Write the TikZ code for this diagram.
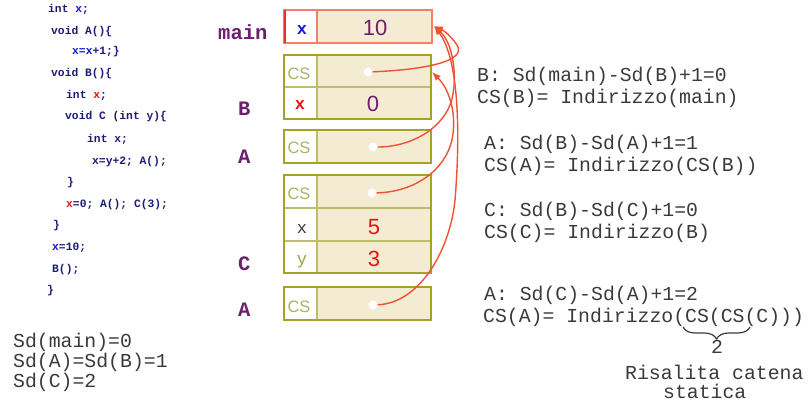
\documentclass[tikz,border=0pt]{standalone}
\usepackage{fontspec}
\setmainfont{Liberation Sans}
\newfontfamily\cour{Liberation Mono}
\usetikzlibrary{arrows.meta,decorations.pathreplacing}
\definecolor{navy}{HTML}{1C1C78}
\definecolor{xblue}{HTML}{1515E6}
\definecolor{xred}{HTML}{EE1111}
\definecolor{purp}{HTML}{6E1E6E}
\definecolor{salmon}{HTML}{F4806A}
\definecolor{redline}{HTML}{E8301E}
\definecolor{arrowc}{HTML}{F25032}
\definecolor{olive}{HTML}{A3A32A}
\definecolor{olivel}{HTML}{BDBD6A}
\definecolor{cstext}{HTML}{A9B465}
\definecolor{ytext}{HTML}{9AA040}
\definecolor{graytext}{HTML}{3A3A3A}
\definecolor{cellbg}{HTML}{F3EBD2}
\begin{document}
\begin{tikzpicture}[x=1pt,y=-1pt,
  code/.style={anchor=base west, inner sep=0, text=navy, font=\cour\bfseries\fontsize{11.3}{13}\selectfont},
  note/.style={anchor=base west, inner sep=0, text=graytext, font=\cour\fontsize{19.8}{22}\selectfont},
  lbl/.style={anchor=base west, inner sep=0, text=purp, font=\cour\bfseries\fontsize{20.5}{24}\selectfont},
  num/.style={anchor=base, inner sep=0, font=\fontsize{22}{26}\selectfont},
  cstxt/.style={anchor=base, inner sep=0, text=cstext, font=\fontsize{16.5}{20}\selectfont},
  monoc/.style={anchor=base, inner sep=0, font=\cour\fontsize{17}{20}\selectfont},
  monob/.style={anchor=base, inner sep=0, font=\cour\bfseries\fontsize{17}{20}\selectfont},
  dot/.style={circle, fill=white, inner sep=0, minimum size=9pt},
  link/.style={draw=arrowc, line width=1.4pt},
  linkarr/.style={link, -{Latex[length=9pt,width=7pt]}},
  frame/.style={draw=olive, line width=2pt},
  inner/.style={draw=olivel, line width=1.3pt}
]
\useasboundingbox (0,0) rectangle (810,409);

% ---------- code ----------
\node[code] (c1)  at (48,13)  {int \textcolor{xblue}{x};};
\node[code] (c2)  at (51,35)  {void A()\{};
\node[code] (c3)  at (72,55)  {\textcolor{xblue}{x=x}+1;\}};
\node[code] (c4)  at (51,77)  {void B()\{};
\node[code] (c5)  at (66,99)  {int \textcolor{xred}{x};};
\node[code] (c6)  at (65,120) {void C (int y)\{};
\node[code] (c7)  at (87,142) {int x;};
\node[code] (c8)  at (92,164) {x=y+2; A();};
\node[code] (c9)  at (67,185) {\}};
\node[code] (c10) at (66,207) {\textcolor{xred}{x}=0; A(); C(3);};
\node[code] (c11) at (53,228) {\}};
\node[code] (c12) at (52,250) {\textcolor{xblue}{x}=10;};
\node[code] (c13) at (52,272) {B();};
\node[code] (c14) at (47,293) {\}};

% ---------- Sd values ----------
\node[note] (sd1) at (13,347) {Sd(main)=0};
\node[note] (sd2) at (13,367) {Sd(A)=Sd(B)=1};
\node[note] (sd3) at (13,387) {Sd(C)=2};

% ---------- frame labels ----------
\node[lbl] (lmain) at (218,40)  {main};
\node[lbl] (lB)    at (238,115) {B};
\node[lbl] (lA1)   at (238,163) {A};
\node[lbl] (lC)    at (238,270) {C};
\node[lbl] (lA2)   at (238,316) {A};

% ---------- main frame ----------
\fill[white]  (284,10) rectangle (317,43);
\fill[cellbg] (317,10) rectangle (432,43);
\draw[salmon, line width=1.4pt] (284,10) rectangle (432,43);
\draw[salmon, line width=1.2pt] (317,10) -- (317,43);
\draw[redline, line width=2pt] (284.5,10) -- (284.5,43);
\node[monob, text=xblue] (mx) at (302,35) {x};
\node[num, text=purp] (m10) at (375,36) {10};

% ---------- B frame ----------
\fill[white]  (284,55) rectangle (317,119);
\fill[cellbg] (317,55) rectangle (431,119);
\draw[inner] (317,55) -- (317,119) (284,87) -- (431,87);
\draw[frame] (284,55) rectangle (431,119);
\node[cstxt] (bcs) at (299,80) {CS};
\node[monob, text=xred] (bx) at (300,110) {x};
\node[num, text=purp] (b0) at (373,112) {0};

% ---------- A frame (1) ----------
\fill[white]  (284,130) rectangle (317,163);
\fill[cellbg] (317,130) rectangle (431,163);
\draw[inner] (317,130) -- (317,163);
\draw[frame] (284,130) rectangle (431,163);
\node[cstxt] (a1cs) at (299,153) {CS};

% ---------- C frame ----------
\fill[white]  (284,175) rectangle (317,273);
\fill[cellbg] (317,175) rectangle (431,273);
\draw[inner] (317,175) -- (317,273) (284,208) -- (431,208) (284,241) -- (431,241);
\draw[frame] (284,175) rectangle (431,273);
\node[cstxt] (ccs) at (299,199) {CS};
\node[monoc, text=graytext] (cx) at (302,233) {x};
\node[num, text=xred] (c5v) at (374,234) {5};
\node[monoc, text=ytext] (cy) at (302,264) {y};
\node[num, text=xred] (c3v) at (374,266) {3};

% ---------- A frame (2) ----------
\fill[white]  (284,287) rectangle (317,320);
\fill[cellbg] (317,287) rectangle (431,320);
\draw[inner] (317,287) -- (317,320);
\draw[frame] (284,287) rectangle (431,320);
\node[cstxt] (a2cs) at (299,312) {CS};

% ---------- dots and targets ----------
\node[dot] (dB)  at (368,72)  {};
\node[dot] (dA1) at (373,147) {};
\node[dot] (dC)  at (372,193) {};
\node[dot] (dA2) at (373,305) {};
\coordinate (mainE) at (434,26);
\coordinate (bE)    at (432,72);

% ---------- static links ----------
\draw[linkarr] (dB) .. controls (420,70) and (468,62) .. (457,45)
                    .. controls (451,36) and (443,30) .. (mainE);
\draw[linkarr] (dA1) .. controls (410,147) and (440,130) .. (450,105)
                     .. controls (458,85) and (455,45) .. (mainE);
\draw[linkarr] (dC) .. controls (415,192) and (445,170) .. (452,140)
                    .. controls (457,115) and (450,90) .. (bE);
\draw[linkarr] (dA2) .. controls (420,303) and (450,250) .. (455,200)
                     .. controls (460,140) and (460,60) .. (mainE);

% ---------- explanations ----------
\node[note] (t1) at (477,82)  {B: Sd(main)-Sd(B)+1=0};
\node[note] (t2) at (477,103) {CS(B)= Indirizzo(main)};
\node[note] (t3) at (484,149) {A: Sd(B)-Sd(A)+1=1};
\node[note] (t4) at (484,171) {CS(A)= Indirizzo(CS(B))};
\node[note] (t5) at (484,216) {C: Sd(B)-Sd(C)+1=0};
\node[note] (t6) at (484,238) {CS(C)= Indirizzo(B)};
\node[note] (t7) at (484,300) {A: Sd(C)-Sd(A)+1=2};
\node[note] (t8) at (483,322) {CS(A)= Indirizzo(CS(CS(C)))};

\coordinate (brL) at (683,327);
\coordinate (brR) at (750,327);
\draw[decorate, decoration={brace, amplitude=12pt, mirror}, line width=1.2pt, graytext] (brL) -- (brR);
\node[note, anchor=base] (two) at (717,353) {2};
\node[note] (ris) at (625,379) {Risalita catena};
\node[note] (sta) at (663,398) {statica};
\end{tikzpicture}
\end{document}
